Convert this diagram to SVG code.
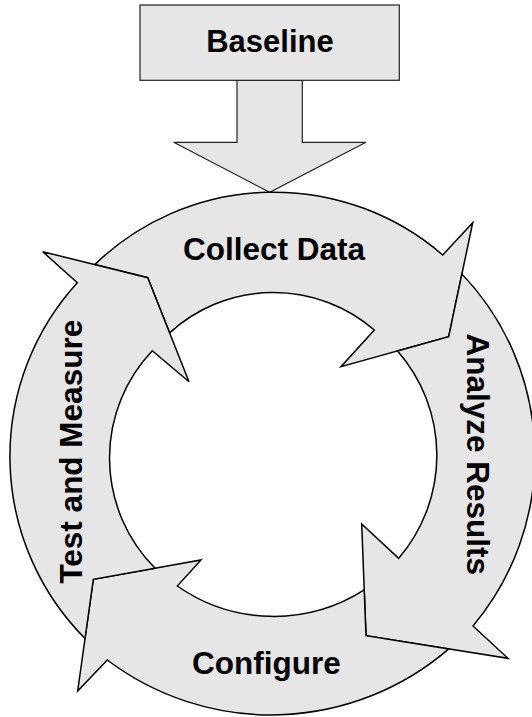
<svg xmlns="http://www.w3.org/2000/svg" width="532" height="717" viewBox="0 0 532 717">
  <style>
    .box { fill: #e6e6e6; stroke: #222; stroke-width: 1.2; }
    .ring { fill: #e6e6e6; stroke: #000; stroke-width: 1.5; stroke-linejoin: miter; }
    .lbl { font-family: "Liberation Sans", Arial, Helvetica, sans-serif; font-weight: bold; font-size: 31.5px; fill: #000; text-anchor: middle; }
  </style>
  <rect width="532" height="717" fill="#fff"/>
  <g id="connectors">
    <polygon class="box" points="237,80.3 302.3,80.3 302.3,142.3 366,142.3 269.7,192.3 173.7,142.3 237,142.3"/>
  </g>
  <g id="baseline">
    <rect class="box" x="140" y="5" width="259.3" height="75.3"/>
    <text class="lbl" x="270" y="52" style="font-size:31px">Baseline</text>
  </g>
  <g id="collect-data">
    <path class="ring" d="M 94.7,264.6 A 258 258 0 0 1 442.7,255 L 472.7,222.7 L 448.7,336.7 L 341,366.7 L 374.3,330 A 154 154 0 0 0 169.6,332.9 L 147.7,277.7 Z"/>
    <text class="lbl" x="274" y="260">Collect Data</text>
  </g>
  <g id="analyze-results">
    <path class="ring" d="M 461.9,273.9 A 264 264 0 0 1 473,626 L 508,658.3 L 366,635.7 L 361.7,524 L 398.7,558.3 A 158 158 0 0 0 397.5,351 L 448.7,336.7 Z"/>
    <text class="lbl" transform="translate(467,454.2) rotate(90)">Analyze Results</text>
  </g>
  <g id="configure">
    <path class="ring" d="M 448.8,648.9 A 272 272 0 0 1 107.3,660 L 77.7,691 L 93.3,579.3 L 201,560 L 177.3,586 A 168 168 0 0 0 364.2,589.9 L 366,635.7 Z"/>
    <text class="lbl" x="266.3" y="674">Configure</text>
  </g>
  <g id="test-and-measure">
    <path class="ring" d="M 85,638.5 A 258 258 0 0 1 77.3,282.7 L 42.7,251.7 L 147.7,277.7 L 189,381.7 L 152.3,350.7 A 156 156 0 0 0 155.1,568.2 L 93.3,579.3 Z"/>
    <text class="lbl" transform="translate(82,451.7) rotate(-90)">Test and Measure</text>
  </g>
</svg>
